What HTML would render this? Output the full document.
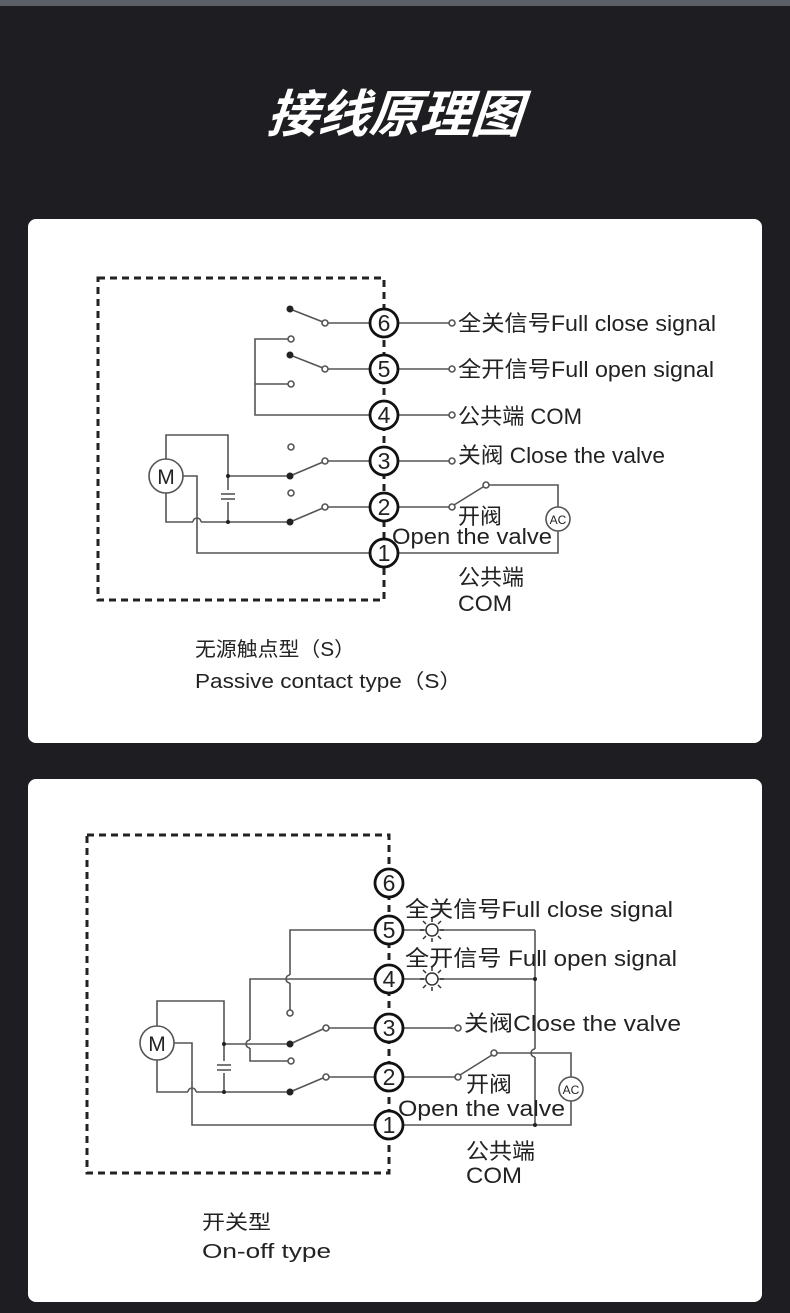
<!DOCTYPE html>
<html><head><meta charset="utf-8"><style>
html,body{margin:0;padding:0;background:#1e1e22;}
svg{display:block}
text{font-family:"Liberation Sans","Noto Sans CJK SC",sans-serif;fill:#222;}
</style></head><body>
<svg width="790" height="1313" viewBox="0 0 790 1313" xmlns="http://www.w3.org/2000/svg">
<rect x="0" y="0" width="790" height="1313" fill="#1e1e22"/>
<rect x="0" y="0" width="790" height="6" fill="#5c5f66"/>
<text x="395" y="132" text-anchor="middle" font-size="51" font-weight="bold" font-style="italic" style="fill:#fff" transform="skewX(-5) translate(10,0)" textLength="255" lengthAdjust="spacingAndGlyphs">接线原理图</text>
<rect x="28" y="219" width="734" height="524" rx="8" fill="#fff"/>
<rect x="28" y="779" width="734" height="523" rx="8" fill="#fff"/>

<!-- Diagram 1 -->
<g stroke="#555" stroke-width="1.6" fill="none">
<rect x="98" y="278" width="286" height="322" stroke="#222" stroke-width="3" stroke-dasharray="7,5"/>
<line x1="290" y1="309" x2="323" y2="322"/><line x1="328" y1="323" x2="370" y2="323"/>
<line x1="398" y1="323" x2="449" y2="323"/>
<line x1="290" y1="355" x2="323" y2="368"/><line x1="328" y1="369" x2="370" y2="369"/>
<line x1="398" y1="369" x2="449" y2="369"/>
<polyline points="288,339 255,339 255,415 370,415"/><line x1="255" y1="384" x2="288" y2="384"/>
<line x1="398" y1="415" x2="449" y2="415"/>
<line x1="290" y1="476" x2="323" y2="462"/><line x1="328" y1="461" x2="370" y2="461"/>
<line x1="398" y1="461" x2="449" y2="461"/>
<line x1="290" y1="522" x2="323" y2="508"/><line x1="328" y1="507" x2="370" y2="507"/>
<line x1="398" y1="507" x2="449" y2="507"/>
<line x1="454" y1="505" x2="483" y2="487"/>
<polyline points="488,485 558,485 558,507"/>
<polyline points="558,531 558,553 398,553"/>
<polyline points="166,459 166,435 228,435 228,522"/>
<line x1="228" y1="476" x2="290" y2="476"/>
<polyline points="166,493 166,522 193,522"/><path d="M193,522 a4,4 0 0 1 8,0"/><line x1="201" y1="522" x2="290" y2="522"/>
<polyline points="183,476 197,476 197,553 370,553"/>
</g>
<g stroke="#555" stroke-width="1.6" fill="#fff">
<rect x="220" y="490" width="16" height="12" stroke="none"/>
<line x1="221" y1="494" x2="235" y2="494"/><line x1="221" y1="499" x2="235" y2="499"/>
<circle cx="166" cy="476" r="17"/>
<circle cx="325" cy="323" r="3"/><circle cx="291" cy="339" r="3"/><circle cx="325" cy="369" r="3"/><circle cx="291" cy="384" r="3"/>
<circle cx="291" cy="447" r="3"/><circle cx="325" cy="461" r="3"/><circle cx="291" cy="493" r="3"/><circle cx="325" cy="507" r="3"/>
<circle cx="452" cy="323" r="3"/><circle cx="452" cy="369" r="3"/><circle cx="452" cy="415" r="3"/><circle cx="452" cy="461" r="3"/><circle cx="452" cy="507" r="3"/><circle cx="486" cy="485" r="3"/>
<circle cx="558" cy="519" r="12"/>
</g>
<g fill="#222"><circle cx="290" cy="309" r="3.5"/><circle cx="290" cy="355" r="3.5"/><circle cx="290" cy="476" r="3.5"/><circle cx="290" cy="522" r="3.5"/><circle cx="228" cy="476" r="2"/><circle cx="228" cy="522" r="2"/></g>
<g stroke="#111" stroke-width="2.8" fill="#fff">
<circle cx="384" cy="323" r="14"/><circle cx="384" cy="369" r="14"/><circle cx="384" cy="415" r="14"/><circle cx="384" cy="461" r="14"/><circle cx="384" cy="507" r="14"/><circle cx="384" cy="553" r="14"/>
</g>
<g font-size="23" text-anchor="middle">
<text x="384" y="331">6</text><text x="384" y="377">5</text><text x="384" y="423">4</text><text x="384" y="469">3</text><text x="384" y="515">2</text><text x="384" y="561">1</text>
</g>
<text x="166" y="484" font-size="21" text-anchor="middle">M</text>
<text x="558" y="524" font-size="12" text-anchor="middle">AC</text>
<g font-size="22" lengthAdjust="spacingAndGlyphs">
<text x="458" y="331" textLength="258" lengthAdjust="spacingAndGlyphs">全关信号Full close signal</text>
<text x="458" y="377" textLength="256" lengthAdjust="spacingAndGlyphs">全开信号Full open signal</text>
<text x="458" y="424" textLength="124" lengthAdjust="spacingAndGlyphs">公共端 COM</text>
<text x="458" y="463" textLength="207" lengthAdjust="spacingAndGlyphs">关阀 Close the valve</text>
<text x="458" y="524" textLength="44" lengthAdjust="spacingAndGlyphs">开阀</text>
<text x="392" y="544" textLength="160" lengthAdjust="spacingAndGlyphs">Open the valve</text>
<text x="458" y="585" textLength="66" lengthAdjust="spacingAndGlyphs">公共端</text>
<text x="458" y="611" textLength="54" lengthAdjust="spacingAndGlyphs">COM</text>
<text x="195" y="656" font-size="20" textLength="160" lengthAdjust="spacingAndGlyphs">无源触点型（S）</text>
<text x="195" y="688" font-size="20" textLength="267" lengthAdjust="spacingAndGlyphs">Passive contact type（S）</text>
</g>

<!-- Diagram 2 -->
<g stroke="#555" stroke-width="1.6" fill="none">
<rect x="87" y="835" width="302" height="338" stroke="#222" stroke-width="3" stroke-dasharray="7,5"/>
<polyline points="375,930 290,930 290,975"/><path d="M290,975 a4,4 0 0 0 0,8"/><line x1="290" y1="983" x2="290" y2="1010"/>
<line x1="403" y1="930" x2="535" y2="930"/>
<polyline points="375,979 250,979 250,1040"/><path d="M250,1040 a4,4 0 0 0 0,8"/><polyline points="250,1048 250,1061 288,1061"/>
<line x1="403" y1="979" x2="535" y2="979"/>
<polyline points="535,930 535,1049"/><path d="M535,1049 a4,4 0 0 0 0,8"/><line x1="535" y1="1057" x2="535" y2="1125"/>
<line x1="290" y1="1044" x2="323" y2="1029"/><line x1="329" y1="1028" x2="375" y2="1028"/>
<line x1="403" y1="1028" x2="455" y2="1028"/>
<line x1="290" y1="1092" x2="323" y2="1078"/><line x1="329" y1="1077" x2="375" y2="1077"/>
<line x1="403" y1="1077" x2="455" y2="1077"/>
<line x1="460" y1="1075" x2="492" y2="1055"/>
<polyline points="497,1053 571,1053 571,1077"/>
<polyline points="571,1101 571,1125 403,1125"/>
<polyline points="157,1027 157,1001 224,1001 224,1092"/>
<line x1="224" y1="1044" x2="290" y2="1044"/>
<polyline points="157,1060 157,1092 188,1092"/><path d="M188,1092 a4,4 0 0 1 8,0"/><line x1="196" y1="1092" x2="290" y2="1092"/>
<polyline points="174,1043 192,1043 192,1125 375,1125"/>
</g>
<g stroke="#555" stroke-width="1.6" fill="#fff">
<rect x="216" y="1061" width="16" height="12" stroke="none"/>
<line x1="217" y1="1065" x2="231" y2="1065"/><line x1="217" y1="1070" x2="231" y2="1070"/>
<circle cx="157" cy="1043" r="17"/>
<circle cx="290" cy="1013" r="3"/><circle cx="291" cy="1061" r="3"/><circle cx="326" cy="1028" r="3"/><circle cx="326" cy="1077" r="3"/>
<circle cx="458" cy="1028" r="3"/><circle cx="458" cy="1077" r="3"/><circle cx="494" cy="1053" r="3"/>
<circle cx="571" cy="1089" r="12"/>
</g>
<g stroke="#333" stroke-width="1.5" fill="#fff">
<circle cx="432" cy="930" r="6"/><circle cx="432" cy="979" r="6"/>
<path d="M432,922v-4M432,938v4M424,930h-4M440,930h4M426,924l-3,-3M438,924l3,-3M426,936l-3,3M438,936l3,3"/>
<path d="M432,971v-4M432,987v4M424,979h-4M440,979h4M426,973l-3,-3M438,973l3,-3M426,985l-3,3M438,985l3,3"/>
</g>
<g fill="#222"><circle cx="290" cy="1044" r="3.5"/><circle cx="290" cy="1092" r="3.5"/><circle cx="224" cy="1044" r="2"/><circle cx="224" cy="1092" r="2"/><circle cx="535" cy="979" r="2"/><circle cx="535" cy="1125" r="2"/></g>
<g stroke="#111" stroke-width="2.8" fill="#fff">
<circle cx="389" cy="883" r="14"/><circle cx="389" cy="930" r="14"/><circle cx="389" cy="979" r="14"/><circle cx="389" cy="1028" r="14"/><circle cx="389" cy="1077" r="14"/><circle cx="389" cy="1125" r="14"/>
</g>
<g font-size="23" text-anchor="middle">
<text x="389" y="891">6</text><text x="389" y="938">5</text><text x="389" y="987">4</text><text x="389" y="1036">3</text><text x="389" y="1085">2</text><text x="389" y="1133">1</text>
</g>
<text x="157" y="1051" font-size="21" text-anchor="middle">M</text>
<text x="571" y="1094" font-size="12" text-anchor="middle">AC</text>
<g font-size="22">
<text x="405" y="917" textLength="268" lengthAdjust="spacingAndGlyphs">全关信号Full close signal</text>
<text x="405" y="966" textLength="272" lengthAdjust="spacingAndGlyphs">全开信号 Full open signal</text>
<text x="464" y="1031" textLength="217" lengthAdjust="spacingAndGlyphs">关阀Close the valve</text>
<text x="466" y="1092" textLength="46" lengthAdjust="spacingAndGlyphs">开阀</text>
<text x="398" y="1116" textLength="167" lengthAdjust="spacingAndGlyphs">Open the valve</text>
<text x="466" y="1159" textLength="69" lengthAdjust="spacingAndGlyphs">公共端</text>
<text x="466" y="1183" textLength="56" lengthAdjust="spacingAndGlyphs">COM</text>
<text x="202" y="1229" font-size="20" textLength="69" lengthAdjust="spacingAndGlyphs">开关型</text>
<text x="202" y="1258" font-size="20" textLength="129" lengthAdjust="spacingAndGlyphs">On-off type</text>
</g>
</svg>
</body></html>
